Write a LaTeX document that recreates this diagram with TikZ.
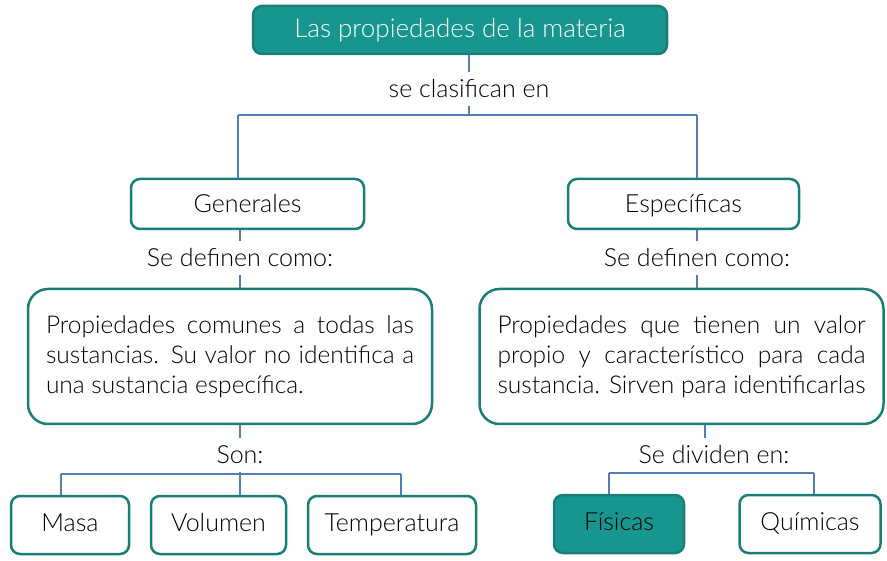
\documentclass[tikz,border=0pt]{standalone}
\usepackage{fontspec}
\setmainfont{Lato}[UprightFont={* Light}]
\usepackage{tikz}

\definecolor{tealfill}{RGB}{23,150,144}
\definecolor{tealline}{RGB}{26,125,120}
\definecolor{linkblue}{RGB}{84,125,180}

\begin{document}
\begin{tikzpicture}[
        x=1pt,y=-1pt,
        title/.style={draw=tealline,line width=2.5pt,fill=tealfill,rounded corners=9pt,text=white,font=\fontsize{26}{30}\selectfont,minimum width=414pt,minimum height=48pt},
        box/.style={draw=tealline,line width=2.5pt,fill=white,rounded corners=9pt,font=\fontsize{25}{29}\selectfont,text height=18pt,text depth=5pt,minimum height=58pt},
        bigbox/.style={draw=tealline,line width=2.5pt,fill=white,rounded corners=20pt,font=\fontsize{24.5}{30}\selectfont,minimum width=404pt,minimum height=135pt,text width=368pt,align=justify},
        label/.style={font=\fontsize{25}{29}\selectfont,text height=22pt,text depth=5pt,inner sep=3pt},
        link/.style={draw=linkblue,line width=1.1pt}
    ]
    \useasboundingbox (0,0) rectangle (887,561);

    \node[title] (materia) at (460,30) {Las propiedades de la materia};
    \node[label] (clasif) at (469,89) {se clasifican en};

    \node[box,minimum width=233pt,minimum height=50pt,text height=22pt] (gen) at (247.5,204) {Generales};
    \node[box,minimum width=231pt,minimum height=50pt,text height=22pt] (esp) at (683.5,204) {Específicas};

    \node[label] (defgen) at (240,258) {Se definen como:};
    \node[label] (defesp) at (697,258) {Se definen como:};

    \node[bigbox] (comunes) at (230,356.5) {\hyphenpenalty=10000 Propiedades comunes a todas las\linebreak sustancias. Su valor no identifica a\linebreak una sustancia específica.};
    \node[bigbox] (propio) at (681.5,356.5) {\hyphenpenalty=10000 Propiedades que tienen un valor\linebreak propio y característico para cada\linebreak sustancia. Sirven para identificarlas};

    \node[label] (son) at (240,455) {Son:};
    \node[label] (dividen) at (714,455) {Se dividen en:};

    \node[box,minimum width=118pt] (masa) at (70,525) {Masa};
    \node[box,minimum width=135pt] (volumen) at (218.5,525) {Volumen};
    \node[box,minimum width=168pt] (temp) at (392,525) {Temperatura};
    \node[box,minimum width=130pt,fill=tealfill] (fisicas) at (619,524) {Físicas};
    \node[box,minimum width=141pt] (quimicas) at (810,524) {Químicas};

    \coordinate (splitL) at (238,115);
    \coordinate (splitR) at (697,115);
    \coordinate (sonL) at (61,474);
    \coordinate (sonR) at (401,474);
    \coordinate (divL) at (609,473);
    \coordinate (divR) at (814,473);

    \draw[link] (materia.south -| clasif) -- (clasif.north);
    \draw[link] (clasif.south) -- (clasif.south |- splitL);
    \draw[link] (splitL) -- (splitR);
    \draw[link] (splitL) -- (splitL |- gen.north);
    \draw[link] (splitR) -- (splitR |- esp.north);

    \draw[link] (gen.south -| defgen) -- (defgen.north);
    \draw[link] (defgen.south) -- (defgen.south |- comunes.north);
    \draw[link] (esp.south -| defesp) -- (defesp.north);
    \draw[link] (defesp.south) -- (defesp.south |- propio.north);

    \draw[link] (comunes.south -| son) -- (son.north);
    \draw[link] (son.south) -- (son.south |- volumen.north);
    \draw[link] (sonL) -- (sonR);
    \draw[link] (sonL) -- (sonL |- masa.north);
    \draw[link] (sonR) -- (sonR |- temp.north);

    \draw[link] (propio.south -| 705,0) -- (dividen.north -| 705,0);
    \draw[link] (divL) -- (divR);
    \draw[link] (divL) -- (divL |- fisicas.north);
    \draw[link] (divR) -- (divR |- quimicas.north);

\end{tikzpicture}
\end{document}
